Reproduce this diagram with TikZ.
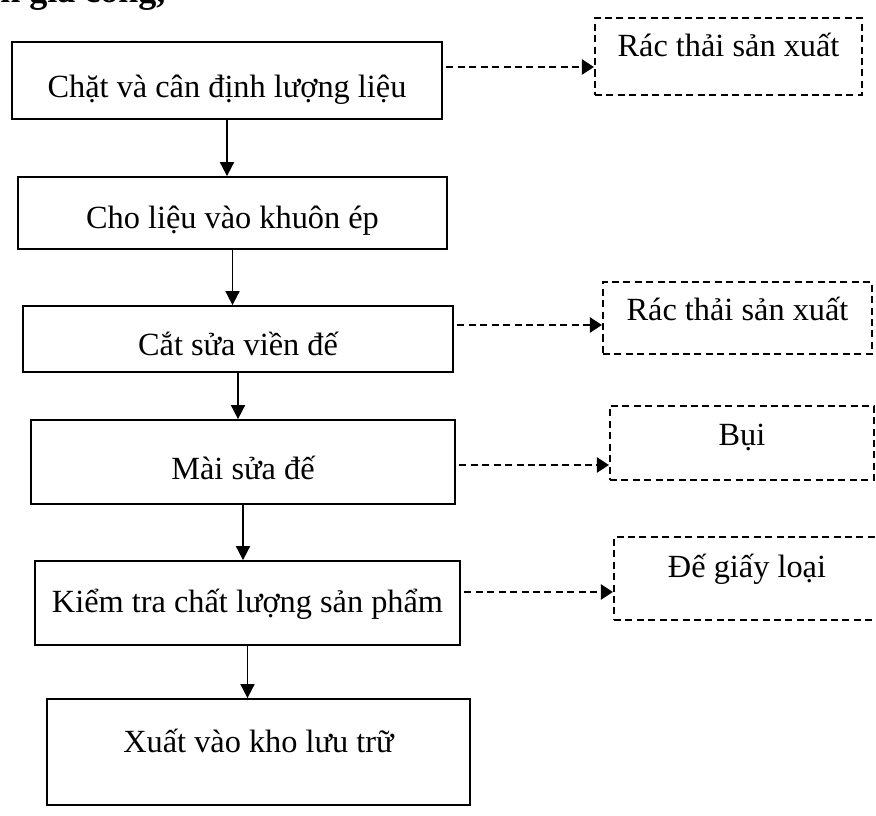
\documentclass[tikz,border=0pt]{standalone}
\usepackage{fontspec}
\setmainfont{Liberation Serif}
\usetikzlibrary{arrows.meta}

\begin{document}
\begin{tikzpicture}[
    process/.style={draw, line width=1pt, inner sep=0pt, font=\fontsize{18.4}{22}\selectfont},
    waste/.style={draw, line width=1.2pt, dash pattern=on 4pt off 2.5pt, inner sep=0pt, font=\fontsize{18.4}{22}\selectfont},
    arrow/.style={-{Triangle[length=2.8mm, width=2.8mm]}, line width=1pt},
    wastearrow/.style={-{Triangle[length=2.4mm, width=3mm]}, line width=1.2pt, dash pattern=on 4pt off 2.5pt}
]
\useasboundingbox (0,0) rectangle (17.52,-16.32);

% Heading line cut by the top edge
\node[anchor=base west, inner sep=0pt, font=\fontsize{20.5}{24}\selectfont\bfseries] (heading) at (0,-0.05) {n gia công,};

% Process steps
\node[process, minimum width=8.6cm, text height=1.12cm, text depth=0.42cm] (chop) at (4.54,-1.61) {Chặt và cân định lượng liệu};
\node[process, minimum width=8.58cm, text height=1.03cm, text depth=0.41cm] (mould) at (4.65,-4.26) {Cho liệu vào khuôn ép};
\node[process, minimum width=8.6cm, text height=0.99cm, text depth=0.33cm] (trim) at (4.76,-6.78) {Cắt sửa viền đế};
\node[process, minimum width=8.48cm, text height=1.2cm, text depth=0.48cm] (grind) at (4.86,-9.24) {Mài sửa đế};
\node[process, minimum width=8.5cm, text height=1.03cm, text depth=0.65cm] (check) at (4.95,-12.06) {Kiểm tra chất lượng sản phẩm};
\node[process, minimum width=8.46cm, text height=1.06cm, text depth=1.06cm] (store) at (5.17,-15.04) {Xuất vào kho lưu trữ};

% Waste outputs
\node[waste, minimum width=5.34cm, text height=0.77cm, text depth=0.77cm] (scrap1) at (14.57,-1.13) {Rác thải sản xuất};
\node[waste, minimum width=5.38cm, text height=0.78cm, text depth=0.66cm] (scrap2) at (14.75,-6.36) {Rác thải sản xuất};
\node[waste, minimum width=5.28cm, text height=0.8cm, text depth=0.68cm] (dust) at (14.84,-8.86) {Bụi};
\node[waste, minimum width=5.32cm, text height=0.82cm, text depth=0.84cm] (reject) at (14.94,-11.57) {Đế giấy loại};

% Main flow
\draw[arrow] (chop.south) -- (chop.south |- mould.north);
\draw[arrow] (mould.south) -- (mould.south |- trim.north);
\draw[arrow] (trim.south) -- (trim.south |- grind.north);
\draw[arrow] (grind.south) -- (grind.south |- check.north);
\draw[arrow] (check.south) -- (check.south |- store.north);

% Waste arrows
\coordinate (lvl1) at (0,-1.34);
\coordinate (lvl2) at (0,-6.5);
\coordinate (lvl3) at (0,-9.3);
\coordinate (lvl4) at (0,-11.84);
\draw[wastearrow] ([xshift=2pt]chop.east |- lvl1) -- (scrap1.west |- lvl1);
\draw[wastearrow] ([xshift=2pt]trim.east |- lvl2) -- (scrap2.west |- lvl2);
\draw[wastearrow] ([xshift=2pt]grind.east |- lvl3) -- (dust.west |- lvl3);
\draw[wastearrow] ([xshift=2pt]check.east |- lvl4) -- (reject.west |- lvl4);

\end{tikzpicture}
\end{document}
